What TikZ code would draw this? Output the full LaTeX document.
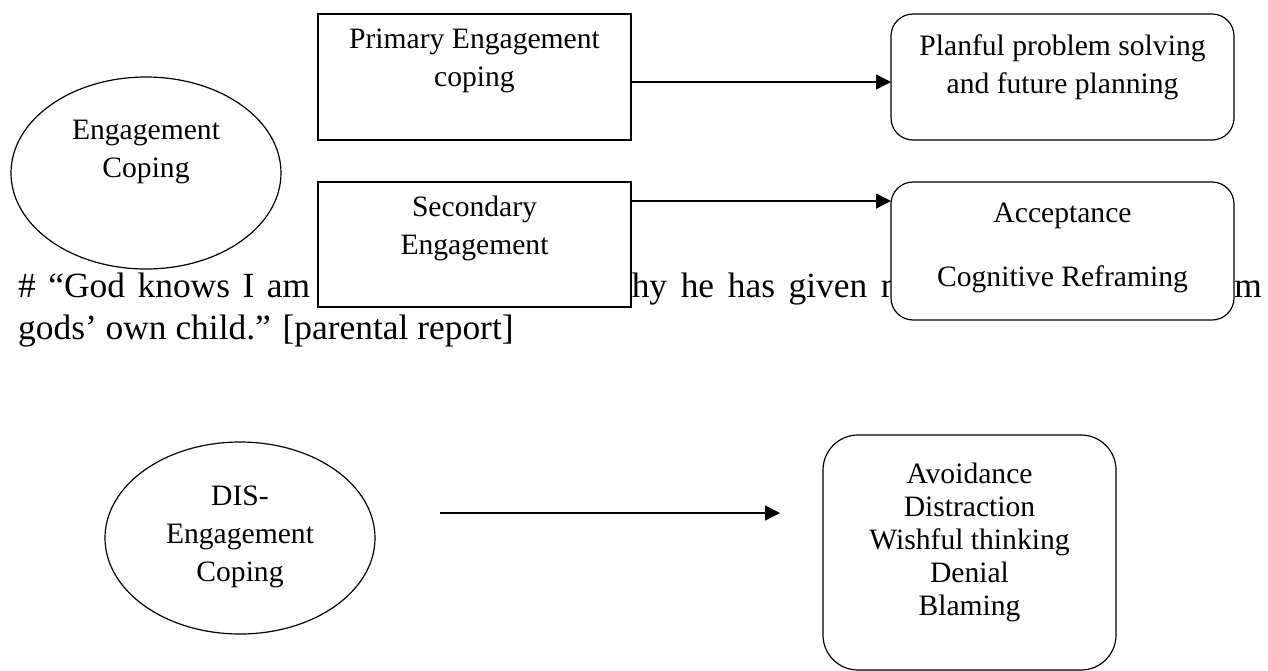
\documentclass[tikz,border=0pt]{standalone}
\usepackage{fontspec}
\setmainfont{Liberation Serif}
\usetikzlibrary{arrows.meta,shapes.geometric}
\tikzset{
  shapebase/.style={draw=black, fill=white, line width=1.2pt, inner sep=0pt, outer sep=0pt},
  sqbox/.style={shapebase, rectangle},
  rbox/.style={shapebase, rectangle, rounded corners=22pt},
  oval/.style={shapebase, ellipse, minimum width=270pt, minimum height=192pt},
  lbl/.style={inner sep=0pt, align=center, font=\fontsize{29.6}{38}\selectfont},
  body/.style={inner sep=0pt, anchor=base west, font=\fontsize{35.4}{42}\selectfont},
  arr/.style={line width=1.2pt, -{Triangle[length=15pt,width=15pt]}},
}
\begin{document}
\begin{tikzpicture}[x=1pt,y=-1pt]
\useasboundingbox (0,0) rectangle (1268,670);

% running quotation (partly covered by the boxes drawn afterwards)
\node[body] (q1) at (18,297) {\makebox[292pt][s]{\# “God knows I am}};
\node[body] (q2) at (606,297) {\makebox[318pt][s]{why he has given me}};
\node[body, anchor=base east] (q3) at (1262,297) {m};
\node[body] (q4) at (18,339) {gods’ own child.” [parental report]};

% engagement coping branch
\node[oval] (e1) at (146,173) {};
\node[lbl] (e1t) at (146,152) {Engagement\\Coping};

\node[sqbox, minimum width=313pt, minimum height=126pt] (p1) at (474.5,77) {};
\node[lbl] (p1t) at (474.5,61) {Primary Engagement\\coping};

\node[sqbox, minimum width=313pt, minimum height=125pt] (s1) at (474.5,244.5) {};
\node[lbl] (s1t) at (474.5,228) {Secondary\\Engagement};

\node[rbox, minimum width=343pt, minimum height=126pt] (pl) at (1062.5,77) {};
\node[lbl] (plt) at (1062.5,67) {Planful problem solving\\and future planning};

\node[rbox, minimum width=343pt, minimum height=138pt] (ac) at (1062.5,251) {};
\node[lbl] (act) at (1062.5,248) {Acceptance\\[26pt]Cognitive Reframing};

\draw[arr] ([yshift=-5pt]p1.east) -- ([yshift=-5pt]pl.west);
\draw[arr] ([yshift=43.5pt]s1.east) coordinate (a2s) -- (a2s -| ac.west);

% disengagement coping branch
\node[oval] (e2) at (240,538) {};
\node[lbl] (e2t) at (240,537) {DIS-\\Engagement\\Coping};

\node[rbox, rounded corners=35pt, minimum width=293pt, minimum height=235pt] (av) at (969.5,552.5) {};
\node[lbl, font=\fontsize{29.6}{33}\selectfont] (avt) at (969.5,542)
  {Avoidance\\Distraction\\Wishful thinking\\Denial\\Blaming};

\coordinate (d1) at (440,513);
\coordinate (d2) at (780,513);
\draw[arr] (d1) -- (d2);
\end{tikzpicture}
\end{document}
